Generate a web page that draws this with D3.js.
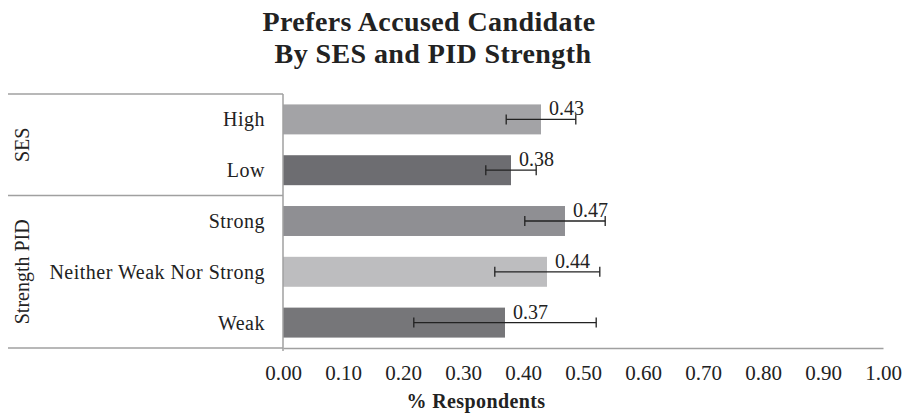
<!DOCTYPE html>
<html>
<head>
<meta charset="utf-8">
<script src="https://cdn.jsdelivr.net/npm/d3@7"></script>
<style>
  body { margin: 0; background: #fff; }
  text { font-family: "Liberation Serif", serif; fill: #222; }
</style>
</head>
<body>
<div id="chart-area"></div>
<script>
// data
let categories = ["High", "Low", "Strong", "Neither Weak Nor Strong", "Weak"];
let groups = ["SES", "SES", "Strength PID", "Strength PID", "Strength PID"];
let values = [0.43, 0.38, 0.47, 0.44, 0.37];
let errLow = [0.372, 0.338, 0.403, 0.353, 0.218];
let errHigh = [0.488, 0.422, 0.537, 0.528, 0.522];
let barColors = ["#a3a3a6", "#6d6d71", "#8f8f93", "#bdbdbf", "#767679"];
let tickValues = [0, 0.1, 0.2, 0.3, 0.4, 0.5, 0.6, 0.7, 0.8, 0.9, 1.0];

let margin = {left: 283, right: 21, top: 94, bottom: 67};
let width = 904 - margin.left - margin.right;
let height = 415 - margin.top - margin.bottom;
let lineColor = "#a0a0a0";

let svg = d3.select("#chart-area")
    .append("svg")
    .attr("width", 904)
    .attr("height", 415);

let g = svg.append("g")
    .attr("transform", "translate(" + margin.left + "," + margin.top + ")");

let x = d3.scaleLinear()
    .domain([0, 1])
    .range([0, width]);

let y = d3.scaleBand()
    .domain(categories)
    .range([0, height])
    .paddingInner(0.41)
    .paddingOuter(0.205);

// title
let title = svg.append("text")
    .attr("text-anchor", "middle")
    .attr("font-weight", "bold")
    .attr("font-size", "28px")
    .attr("letter-spacing", "0.4px");
title.append("tspan").attr("x", 429).attr("y", 31).text("Prefers Accused Candidate");
title.append("tspan").attr("x", 433).attr("y", 63).text("By SES and PID Strength");

// bars
g.selectAll("rect.bar")
    .data(values)
    .enter()
    .append("rect")
    .attr("class", "bar")
    .attr("x", 0)
    .attr("y", function(d, i){ return y(categories[i]); })
    .attr("width", function(d){ return x(d); })
    .attr("height", y.bandwidth())
    .attr("fill", function(d, i){ return barColors[i]; });

// error bars
let err = g.selectAll("g.err")
    .data(values)
    .enter()
    .append("g")
    .attr("class", "err")
    .attr("transform", function(d, i){
        return "translate(0," + (y(categories[i]) + y.bandwidth() / 2) + ")";
    });

err.append("line")
    .attr("x1", function(d, i){ return x(errLow[i]); })
    .attr("x2", function(d, i){ return x(errHigh[i]); })
    .attr("stroke", "#222")
    .attr("stroke-width", 1.3);

err.append("line")
    .attr("x1", function(d, i){ return x(errLow[i]); })
    .attr("x2", function(d, i){ return x(errLow[i]); })
    .attr("y1", -5).attr("y2", 5)
    .attr("stroke", "#222")
    .attr("stroke-width", 1.3);

err.append("line")
    .attr("x1", function(d, i){ return x(errHigh[i]); })
    .attr("x2", function(d, i){ return x(errHigh[i]); })
    .attr("y1", -5).attr("y2", 5)
    .attr("stroke", "#222")
    .attr("stroke-width", 1.3);

// value labels
g.selectAll("text.val")
    .data(values)
    .enter()
    .append("text")
    .attr("class", "val")
    .attr("x", function(d){ return x(d) + 8; })
    .attr("y", function(d, i){ return y(categories[i]) + y.bandwidth() / 2 - 4; })
    .attr("font-size", "20px")
    .text(function(d){ return d3.format(".2f")(d); });

// x axis
let xAxis = d3.axisBottom(x)
    .tickValues(tickValues)
    .tickSize(0)
    .tickPadding(17)
    .tickFormat(d3.format(".2f"));

let xAxis_group = g.append("g")
    .attr("class", "x axis")
    .attr("transform", "translate(0," + height + ")")
    .call(xAxis);
xAxis_group.select(".domain").attr("stroke", lineColor).attr("stroke-width", 1.5);
xAxis_group.selectAll("text")
    .attr("font-size", "21px")
    .attr("font-family", "Liberation Serif, serif")
    .attr("fill", "#222");

// x label
g.append("text")
    .attr("x", 476 - margin.left)
    .attr("y", height + 60)
    .attr("text-anchor", "middle")
    .attr("font-weight", "bold")
    .attr("font-size", "20px")
    .attr("letter-spacing", "0.4px")
    .text("% Respondents");

// y axis frame
g.append("line")
    .attr("x1", 0).attr("x2", 0)
    .attr("y1", 0).attr("y2", height + 3)
    .attr("stroke", lineColor)
    .attr("stroke-width", 1.5);

// group separators
let groupNames = Array.from(new Set(groups));
let bounds = [0];
groupNames.forEach(function(gn){
    let last = categories[groups.lastIndexOf(gn)];
    bounds.push(y(last) + y.step() - y.step() * y.paddingInner() / 2);
});
bounds[bounds.length - 1] = height;

g.selectAll("line.sep")
    .data(bounds)
    .enter()
    .append("line")
    .attr("class", "sep")
    .attr("x1", -275).attr("x2", 0)
    .attr("y1", function(d){ return d; })
    .attr("y2", function(d){ return d; })
    .attr("stroke", lineColor)
    .attr("stroke-width", 1.5);

// category labels
g.selectAll("text.cat")
    .data(categories)
    .enter()
    .append("text")
    .attr("class", "cat")
    .attr("x", -18)
    .attr("y", function(d){ return y(d) + y.bandwidth() / 2; })
    .attr("dy", "0.35em")
    .attr("text-anchor", "end")
    .attr("font-size", "20px")
    .attr("letter-spacing", "0.5px")
    .text(function(d){ return d; });

// group labels
g.selectAll("text.grp")
    .data(groupNames)
    .enter()
    .append("text")
    .attr("class", "grp")
    .attr("transform", function(d, i){
        let cy = (bounds[i] + bounds[i + 1]) / 2;
        return "translate(" + (-261) + "," + cy + ") rotate(-90)";
    })
    .attr("dy", "0.35em")
    .attr("text-anchor", "middle")
    .attr("font-size", "20px")
    .text(function(d){ return d; });
</script>
</body>
</html>
